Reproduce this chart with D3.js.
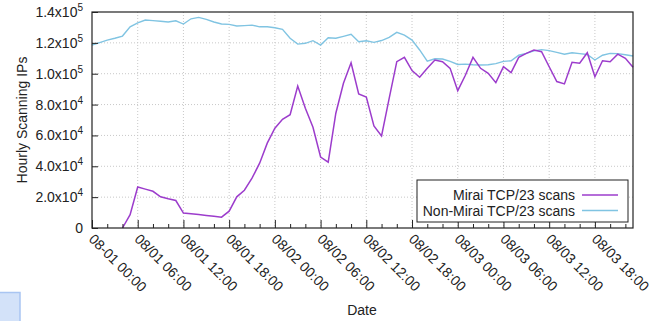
<!DOCTYPE html>
<html>
<head>
<meta charset="utf-8">
<script src="https://cdn.jsdelivr.net/npm/d3@7"></script>
<style>
  body { margin: 0; background: #fff; }
  svg { font-family: "Liberation Sans", Arial, sans-serif; }
</style>
</head>
<body>
<div id="chart"></div>
<script>
// hourly samples, starting 08/01 00:00
const startTime = new Date(2016, 7, 1, 0, 0)
const miraiStartHour = 4

// Mirai TCP/23 scanning IPs per hour (from 08/01 04:00)
const mirai = [
	0, 8600, 26600, 25200, 23800, 20200, 18900, 17800, 9700, 9200,
	8700, 8100, 7600, 7000, 10900, 20200, 24500, 32300, 42000, 55000,
	64700, 70500, 73400, 92000, 77600, 65300, 46000, 42700, 74400, 93800,
	107100, 86900, 84800, 66200, 59700, 84000, 107800, 110600, 102000, 97700,
	103500, 108900, 107800, 103500, 89000, 99000, 110600, 103500, 100300, 94200,
	104500, 100700, 110600, 113200, 115400, 114300, 104500, 94900, 93400, 107400,
	106800, 113600, 98000, 108400, 107800, 112700, 110000, 104200
]

// Non-Mirai TCP/23 scanning IPs per hour (from 08/01 00:00)
const nonMirai = [
	118600, 120200, 121800, 123000, 124400, 130400, 133000, 134800, 134400, 134000,
	133500, 134300, 132200, 135600, 136500, 135200, 133500, 132200, 132000, 130900,
	131200, 131500, 130400, 130400, 129800, 128800, 123000, 119200, 119700, 121400,
	118600, 123300, 123000, 124200, 125500, 120700, 121400, 120300, 121500, 123500,
	126800, 125000, 121800, 115400, 108200, 109700, 109500, 108000, 106000, 106200,
	105800, 105600, 105800, 106500, 108000, 108400, 112000, 113200, 114800, 115600,
	115000, 113800, 112600, 113600, 113000, 112500, 108900, 112000, 113200, 113000,
	112300, 111500
]

const yTicks = [0, 20000, 40000, 60000, 80000, 100000, 120000, 140000]
const yTickLabels = [["0", ""], ["2.0x10", "4"], ["4.0x10", "4"], ["6.0x10", "4"],
	["8.0x10", "4"], ["1.0x10", "5"], ["1.2x10", "5"], ["1.4x10", "5"]]
const xTickLabels = ["08-01 00:00", "08/01 06:00", "08/01 12:00", "08/01 18:00",
	"08/02 00:00", "08/02 06:00", "08/02 12:00", "08/02 18:00",
	"08/03 00:00", "08/03 06:00", "08/03 12:00", "08/03 18:00"]
const seriesNames = ["Mirai TCP/23 scans", "Non-Mirai TCP/23 scans"]
const seriesColors = ["#9c3ccc", "#80c4e2"]

var cfg = {
	w: 654,
	h: 321,
	margin: {top: 12, right: 21, bottom: 93, left: 92},
	font: 14
}
const graphW = cfg.w - cfg.margin.left - cfg.margin.right
const graphH = cfg.h - cfg.margin.top - cfg.margin.bottom

const hourMs = 3600 * 1000
const toDate = h => new Date(startTime.getTime() + h * hourMs)

const miraiData = mirai.map((v, i) => ({t: toDate(i + miraiStartHour), v: v}))
const nonMiraiData = nonMirai.map((v, i) => ({t: toDate(i), v: v}))

var svg = d3.select("#chart")
	.append("svg")
	.attr("width", cfg.w)
	.attr("height", cfg.h)

// small blue box in the lower left corner of the figure
svg.append("rect")
	.attr("x", -2).attr("y", 292.5)
	.attr("width", 22).attr("height", 40)
	.attr("fill", "#d3e2f9")
	.attr("stroke", "#a9c5f2")
	.attr("stroke-width", 1.5)

var g = svg.append("g")
	.attr("transform", "translate(" + cfg.margin.left + "," + cfg.margin.top + ")")

var x = d3.scaleTime()
	.domain([startTime, toDate(nonMirai.length - 1)])
	.range([0, graphW])

var y = d3.scaleLinear()
	.domain([0, 140000])
	.range([graphH, 0])

const majorTicks = xTickLabels.map((d, i) => toDate(i * 6))
const minorTicks = d3.range(0, nonMirai.length, 2).filter(h => h % 6 !== 0).map(toDate)

// grid
g.append("g").selectAll("line")
	.data(majorTicks.slice(1))
	.enter().append("line")
	.attr("x1", d => x(d)).attr("x2", d => x(d))
	.attr("y1", 0).attr("y2", graphH)
	.attr("stroke", "#c8c8c8")
	.attr("stroke-width", 1)
	.attr("stroke-dasharray", "1,2")

g.append("g").selectAll("line")
	.data(yTicks.slice(1, -1))
	.enter().append("line")
	.attr("x1", 0).attr("x2", graphW)
	.attr("y1", d => y(d)).attr("y2", d => y(d))
	.attr("stroke", "#c8c8c8")
	.attr("stroke-width", 1)
	.attr("stroke-dasharray", "1,2")

// lines
var line = d3.line()
	.x(d => x(d.t))
	.y(d => y(d.v))

g.append("path")
	.datum(nonMiraiData)
	.attr("fill", "none")
	.attr("stroke", seriesColors[1])
	.attr("stroke-width", 1.4)
	.attr("d", line)

g.append("path")
	.datum(miraiData)
	.attr("fill", "none")
	.attr("stroke", seriesColors[0])
	.attr("stroke-width", 1.5)
	.attr("d", line)

// border
g.append("rect")
	.attr("x", 0).attr("y", 0)
	.attr("width", graphW).attr("height", graphH)
	.attr("fill", "none")
	.attr("stroke", "#222")
	.attr("stroke-width", 1.2)

// x axis (ticks point inward)
var xAxis = g.append("g")
	.attr("transform", "translate(0," + graphH + ")")
	.call(d3.axisBottom(x).tickValues(majorTicks).tickSize(-8).tickFormat(""))
xAxis.select(".domain").remove()
xAxis.selectAll("line").attr("stroke", "#222")

var xMinor = g.append("g")
	.attr("transform", "translate(0," + graphH + ")")
	.call(d3.axisBottom(x).tickValues(minorTicks).tickSize(-4).tickFormat(""))
xMinor.select(".domain").remove()
xMinor.selectAll("line").attr("stroke", "#222")

g.append("g").selectAll("text")
	.data(majorTicks)
	.enter().append("text")
	.attr("transform", (d) => "translate(" + (x(d) - 4) + "," + (graphH + 12) + ") rotate(45)")
	.attr("font-size", cfg.font)
	.attr("fill", "#222")
	.text((d, i) => xTickLabels[i])

// y axis
var yAxis = g.append("g")
	.call(d3.axisLeft(y).tickValues(yTicks).tickSize(-6).tickFormat(""))
yAxis.select(".domain").remove()
yAxis.selectAll("line").attr("stroke", "#222")

var yLab = g.append("g").selectAll("text")
	.data(yTicks)
	.enter().append("text")
	.attr("x", -9)
	.attr("y", d => y(d) + 5)
	.attr("text-anchor", "end")
	.attr("font-size", cfg.font)
	.attr("fill", "#222")
yLab.append("tspan").text((d, i) => yTickLabels[i][0])
yLab.append("tspan")
	.attr("dy", -6)
	.attr("font-size", 10)
	.text((d, i) => yTickLabels[i][1])

// axis titles
svg.append("text")
	.attr("transform", "translate(27," + (cfg.margin.top + graphH / 2) + ") rotate(-90)")
	.attr("text-anchor", "middle")
	.attr("font-size", cfg.font)
	.attr("fill", "#222")
	.text("Hourly Scanning IPs")

svg.append("text")
	.attr("x", 362)
	.attr("y", 315)
	.attr("text-anchor", "middle")
	.attr("font-size", cfg.font)
	.attr("fill", "#222")
	.text("Date")

// legend
var legend = g.append("g")
	.attr("transform", "translate(" + (417 - cfg.margin.left) + "," + (180 - cfg.margin.top) + ")")

legend.append("rect")
	.attr("x", 0).attr("y", 0)
	.attr("width", 211).attr("height", 42)
	.attr("fill", "#fff")
	.attr("stroke", "#222")
	.attr("stroke-width", 1)

seriesNames.forEach((name, i) => {
	legend.append("text")
		.attr("x", 158)
		.attr("y", 20 + i * 15.5)
		.attr("text-anchor", "end")
		.attr("font-size", cfg.font)
		.attr("fill", "#222")
		.text(name)
	legend.append("line")
		.attr("x1", 165).attr("x2", 201)
		.attr("y1", 15 + i * 15.5).attr("y2", 15 + i * 15.5)
		.attr("stroke", seriesColors[i])
		.attr("stroke-width", 1.5)
})
</script>
</body>
</html>
